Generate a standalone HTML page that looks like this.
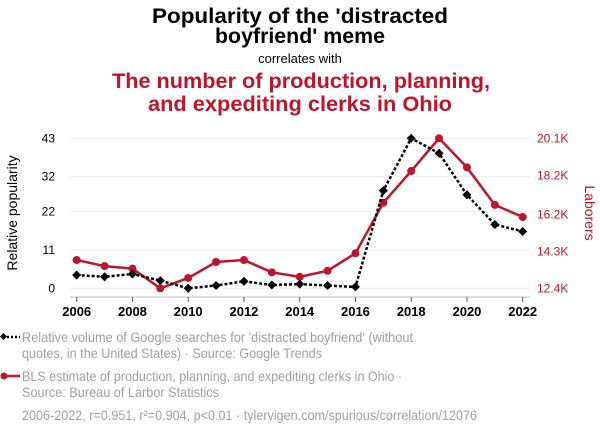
<!DOCTYPE html>
<html><head><meta charset="utf-8">
<style>
body{margin:0;width:600px;height:436px;background:#fff;font-family:"Liberation Sans",sans-serif;overflow:hidden}
svg text{font-family:"Liberation Sans",sans-serif}
</style></head>
<body>
<svg id="chart" width="600" height="436">
<text x="152" y="23" font-size="21" font-weight="bold" textLength="296" lengthAdjust="spacingAndGlyphs">Popularity of the 'distracted</text>
<text x="215" y="43" font-size="21" font-weight="bold" textLength="170" lengthAdjust="spacingAndGlyphs">boyfriend' meme</text>
<text x="300" y="63" text-anchor="middle" font-size="13">correlates with</text>
<text x="112" y="88" font-size="21.5" font-weight="bold" fill="#c0142b" textLength="378" lengthAdjust="spacingAndGlyphs">The number of production, planning,</text>
<text x="148" y="111" font-size="21.5" font-weight="bold" fill="#c0142b" textLength="304" lengthAdjust="spacingAndGlyphs">and expediting clerks in Ohio</text>
<g id="grid"></g><g id="axes"></g><g id="series"></g>
<text transform="translate(17,213) rotate(-90)" text-anchor="middle" font-size="14">Relative popularity</text>
<text transform="translate(585,213) rotate(90)" text-anchor="middle" font-size="14" fill="#c0142b">Laborers</text>
<g>
<line x1="3" y1="337" x2="20" y2="337" stroke="#000" stroke-width="2.5" stroke-dasharray="2,2"/>
<rect x="1" y="334" width="5" height="5" transform="rotate(45 3.5 336.5)" fill="#000"/>
<text x="22" y="342" font-size="14" fill="#a0a0a0" textLength="391" lengthAdjust="spacingAndGlyphs">Relative volume of Google searches for 'distracted boyfriend' (without</text>
<text x="22" y="358" font-size="14" fill="#a0a0a0" textLength="300" lengthAdjust="spacingAndGlyphs">quotes, in the United States) · Source: Google Trends</text>
</g>
<g>
<line x1="3" y1="376" x2="20" y2="376" stroke="#c0142b" stroke-width="2.5"/>
<circle cx="4" cy="376" r="3.5" fill="#c0142b"/>
<text x="22" y="381" font-size="14" fill="#a0a0a0" textLength="380" lengthAdjust="spacingAndGlyphs">BLS estimate of production, planning, and expediting clerks in Ohio ·</text>
<text x="22" y="397" font-size="14" fill="#a0a0a0" textLength="197" lengthAdjust="spacingAndGlyphs">Source: Bureau of Larbor Statistics</text>
</g>
<text x="22" y="420" font-size="14" fill="#a0a0a0" textLength="455" lengthAdjust="spacingAndGlyphs">2006-2022, r=0.951, r²=0.904, p&lt;0.01 · tylervigen.com/spurious/correlation/12076</text>
</svg>
<script>
const years=[2006,2007,2008,2009,2010,2011,2012,2013,2014,2015,2016,2017,2018,2019,2020,2021,2022];
const googleValues=[3.8,3.3,4.1,2.2,0,0.8,2.0,0.95,1.2,0.8,0.4,28,43,38.7,26.8,18.3,16.3];
const clerkValues=[13.85,13.54,13.41,12.4,12.93,13.75,13.85,13.22,12.99,13.30,14.20,16.79,18.42,20.1,18.61,16.68,16.06];
const leftTicks=[0,11,22,32,43];
const rightTicks=[12.4,14.3,16.2,18.2,20.1];
const rightTickLabels=["12.4K","14.3K","16.2K","18.2K","20.1K"];
const xTicks=[2006,2008,2010,2012,2014,2016,2018,2020,2022];

const NS="http://www.w3.org/2000/svg";
const X0=76.7,X1=522.7,YT=138.3,YB=288.3;
const x=v=>X0+(v-2006)/(2022-2006)*(X1-X0);
const yL=v=>YB-(v-0)/(43-0)*(YB-YT);
const yR=v=>YB-(v-12.4)/(20.1-12.4)*(YB-YT);
function mk(tag,attrs,parent){const e=document.createElementNS(NS,tag);for(const k in attrs)e.setAttribute(k,attrs[k]);parent.appendChild(e);return e;}
const grid=document.getElementById('grid'),axes=document.getElementById('axes'),series=document.getElementById('series');
leftTicks.forEach((t,i)=>{
  const g=mk('line',{x1:70,x2:530,y1:yL(t),y2:yL(t),stroke:'#eee','stroke-width':1},grid);
  
  
  const l=mk('text',{x:55,y:yL(t)+4,'text-anchor':'end','font-size':12,fill:'#000'},axes);
  l.textContent=t;
  
  
});
rightTicks.forEach((t,i)=>{
  const l=mk('text',{x:537,y:yR(t)+4,'font-size':12,fill:'#c0142b'},axes);
  l.textContent=rightTickLabels[i];
  
  
});
const ax=mk('line',{x1:70,x2:530,y1:297,y2:297,stroke:'#bbb','stroke-width':1},axes);


xTicks.forEach(t=>{
  const tk=mk('line',{x1:x(t),x2:x(t),y1:297,y2:302,stroke:'#555','stroke-width':1},axes);
  
  
  const l=mk('text',{x:x(t),y:316,'text-anchor':'middle','font-size':13,'font-weight':'bold'},axes);
  l.textContent=t;
  
  
});
const rp=mk('polyline',{points:years.map((yr,i)=>x(yr)+','+yR(clerkValues[i])).join(' '),fill:'none',stroke:'#c0142b','stroke-width':2.5},series);


years.forEach((yr,i)=>{
  const c=mk('circle',{cx:x(yr),cy:yR(clerkValues[i]),r:4,fill:'#c0142b'},series);
  
  
});
const bp=mk('polyline',{points:years.map((yr,i)=>x(yr)+','+yL(googleValues[i])).join(' '),fill:'none',stroke:'#000','stroke-width':2.5,'stroke-dasharray':'3,2'},series);


years.forEach((yr,i)=>{
  const cx=x(yr),cy=yL(googleValues[i]);
  const d=mk('rect',{x:cx-3.2,y:cy-3.2,width:6.4,height:6.4,fill:'#000',transform:`rotate(45 ${cx} ${cy})`},series);
  
  
});
</script>
</body></html>
